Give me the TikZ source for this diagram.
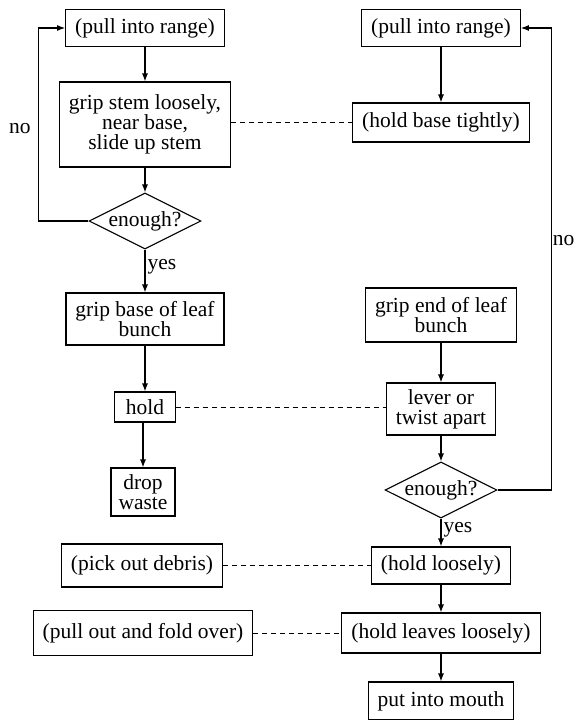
\documentclass[tikz,border=0pt]{standalone}
\usepackage{fontspec}
\setmainfont{Liberation Serif}
\newfontfamily\texte{Liberation Serif}
\usetikzlibrary{arrows.meta}
\usetikzlibrary{shapes.geometric}
\tikzstyle{boite}      =[draw, line width=1.1pt, align=center, inner xsep=9.5pt, inner ysep=0pt, minimum height=37pt]
\tikzstyle{losange}    =[draw, line width=1.1pt, shape=diamond, aspect=2, inner sep=0pt, minimum width=109pt, minimum height=56pt]
\tikzstyle{fleche}     =[line width=1.1pt, -{Latex[length=8pt,width=6pt]}]
\tikzstyle{pointilles} =[line width=0.8pt, dash pattern=on 5pt off 4pt]

\begin{document}
\begin{tikzpicture}[x=1pt, y=-1pt, font=\texte\fontsize{21.5}{20}\selectfont]
 \useasboundingbox (0,0) rectangle (573,720);
 \draw (145,28) node[boite] (tirer1) {(pull into range)};
 \draw (145,124.5) node[boite, minimum height=85pt] (serrer) {grip stem loosely,\\near base,\\slide up stem};
 \draw (145,221) node[losange] (assez1) {enough?};
 \draw (145,319) node[boite, minimum height=52pt] (base) {grip base of leaf\\bunch};
 \draw (145,407) node[boite, minimum height=30pt, inner xsep=11pt] (tenir) {hold};
 \draw (143,492) node[boite, minimum height=48pt, inner xsep=7.5pt] (jeter) {drop\\waste};
 \draw (441,28) node[boite] (tirer2) {(pull into range)};
 \draw (441,122.5) node[boite, minimum height=39pt] (tenirbase) {(hold base tightly)};
 \draw (441,315) node[boite, minimum height=54pt] (bout) {grip end of leaf\\bunch};
 \draw (441,409) node[boite, minimum height=52pt] (tordre) {lever or\\twist apart};
 \draw (441,490) node[losange, minimum width=107pt] (assez2) {enough?};
 \draw (441,565.5) node[boite] (tenirmou) {(hold loosely)};
 \draw (441,633) node[boite, minimum height=40pt] (feuilles) {(hold leaves loosely)};
 \draw (441,701) node[boite, minimum height=38pt] (bouche) {put into mouth};
 \draw (142,565.5) node[boite, minimum height=43pt] (debris) {(pick out debris)};
 \draw (143,633) node[boite, minimum height=45pt] (plier) {(pull out and fold over)};
 \draw[fleche] (tirer1) -- (serrer);
 \draw[fleche] (serrer) -- (assez1);
 \draw[fleche] (assez1) -- node[pos=0.4, right, inner sep=2pt] (oui1) {yes} (base);
 \draw[fleche] (base) -- (tenir);
 \draw[fleche] (jeter.north |- tenir.south) -- (jeter.north);
 \draw[fleche] (assez1.west) -- ++(-50,0) |- node[pos=0.24, left=4pt] (non1) {no} (tirer1.west);
 \draw[fleche] (tirer2) -- (tenirbase);
 \draw[fleche] (bout) -- (tordre);
 \draw[fleche] (tordre) -- (assez2);
 \draw[fleche] (assez2) -- node[pos=0.4, right, inner sep=2pt] (oui2) {yes} (tenirmou);
 \draw[fleche] (tenirmou) -- (feuilles);
 \draw[fleche] (feuilles) -- (bouche);
 \draw[fleche] (assez2.east) -- ++(54,0) |- node[pos=0.27, right, inner sep=0.8pt] (non2) {no} (tirer2.east);
 \draw[pointilles] (tenirbase.west -| serrer.east) -- (tenirbase.west);
 \draw[pointilles] (tenir.east) -- (tenir.east -| tordre.west);
 \draw[pointilles] (debris) -- (tenirmou);
 \draw[pointilles] (plier) -- (feuilles);
\end{tikzpicture}
\end{document}
